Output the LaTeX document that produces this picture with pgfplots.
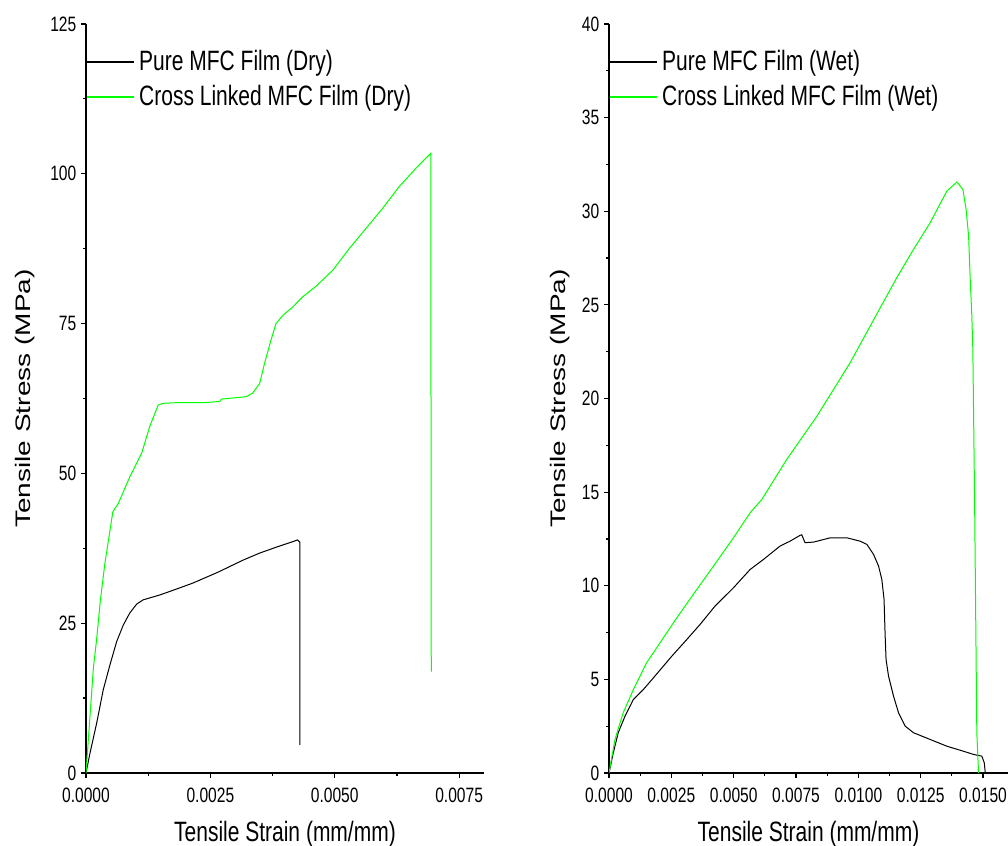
\documentclass[border=0pt]{standalone}
\usepackage{fontspec}
\setmainfont{Liberation Sans}[FakeStretch=0.75]
\newfontfamily\ylabfont{Liberation Sans}
\usepackage{graphicx}
\usepackage{pgfplots}
\pgfplotsset{compat=1.18}
\definecolor{lgreen}{RGB}{0,255,0}

\pgfplotsset{
  mystyle/.style={
    scale only axis, height=374.5pt,
    axis lines*=left,
    axis line style={line width=0.7pt, black},
    tick align=outside,
    major tick length=2.5pt, minor tick length=1.5pt,
    minor tick num=1,
    every tick/.style={line width=0.6pt, black},
    ymin=0, xmin=0,
    tick label style={font=\fontsize{10.4}{12}\selectfont},
    /pgf/number format/assume math mode=true,
    scaled x ticks=false,
    xticklabel style={yshift=-1.5pt, /pgf/number format/.cd, fixed, fixed zerofill, precision=4},
    yticklabel style={xshift=1.2pt, /pgf/number format/.cd, fixed, precision=0},
    xlabel style={font=\fontsize{14}{17}\selectfont, at={(axis description cs:0.5,-0.092)}, anchor=base},
    legend style={at={(axis description cs:0,1)}, anchor=north west, yshift=-13.3pt,
      draw=none, fill=none, inner sep=0pt, outer sep=0pt, row sep=4.5pt,
      font=\fontsize{14}{17}\selectfont,
      nodes={inner sep=0pt, text height=10pt, text depth=3pt},
      /tikz/every odd column/.append style={column sep=2.5pt}},
    legend cell align=left,
    legend image code/.code={\draw[#1, line width=0.6pt, draw opacity=1] (0pt,0.75pt) -- (23.5pt,0.75pt);},
    every axis plot/.append style={line width=0.5pt},
  }
}
\newcommand{\ylab}{\scalebox{1}[0.75]{\ylabfont\fontsize{14}{17}\selectfont Tensile Stress (MPa)}}

\begin{document}
\begin{tikzpicture}
\useasboundingbox (-43pt,-36.5pt) rectangle (461pt,386.5pt);

\begin{axis}[mystyle, at={(0pt,0pt)}, anchor=south west, width=199pt,
  xmax=0.008, ymax=125,
  xtick={0,0.0025,0.005,0.0075}, ytick={0,25,50,75,100,125},
  xlabel={Tensile Strain (mm/mm)},
  ylabel={\ylab},
  ylabel style={at={(axis description cs:-0.1533,0.5)}, anchor=center},
]
\addplot[color=black] coordinates {
(0,0) (0.00008,3.3) (0.000214,8.3) (0.000347,13.9) (0.00048,18.0) (0.000615,21.9)
(0.00075,24.7) (0.00088,26.7) (0.00102,28.2) (0.00115,28.9) (0.00148,29.7)
(0.00182,30.7) (0.00215,31.7) (0.00265,33.5) (0.00315,35.5) (0.00349,36.7)
(0.00383,37.7) (0.00419,38.7) (0.00425,38.9) (0.0043,38.5) (0.0043,4.7)
};
\addlegendentry{Pure MFC Film (Dry)}
\addplot[color=lgreen] coordinates {
(0,0) (0.00015,17.7) (0.00021,22.0) (0.00029,28.9) (0.00038,35.0) (0.00054,43.6)
(0.00065,45.0) (0.00088,49.4) (0.00112,53.4) (0.00128,57.8) (0.00145,61.4)
(0.00155,61.7) (0.00182,61.8) (0.00235,61.8) (0.00269,62.0) (0.00272,62.4)
(0.00322,62.8) (0.00335,63.4) (0.00349,65.0) (0.00359,68.4) (0.00372,72.3)
(0.00382,75.0) (0.00396,76.4) (0.00416,77.8) (0.00436,79.5) (0.00462,81.2)
(0.00496,83.9) (0.00529,87.5) (0.00563,90.9) (0.00596,94.2) (0.00629,97.8)
(0.00663,100.9) (0.00683,102.6) (0.00693,103.4) (0.00694,16.9)
};
\addlegendentry{Cross Linked MFC Film (Dry)}
\end{axis}

\begin{axis}[mystyle, at={(261.5pt,0pt)}, anchor=south west, width=199.5pt,
  xmax=0.016, ymax=40,
  xtick={0,0.0025,0.005,0.0075,0.01,0.0125,0.015}, ytick={0,5,...,40},
  xlabel={Tensile Strain (mm/mm)},
  ylabel={\ylab},
  ylabel style={at={(axis description cs:-0.1228,0.5)}, anchor=center},
]
\addplot[color=black] coordinates {
(0,0) (0.000173,1.08) (0.00037,2.15) (0.00064,3.03) (0.00098,3.93) (0.00138,4.46)
(0.00178,5.08) (0.00252,6.24) (0.00312,7.13) (0.00365,7.93) (0.00425,8.91)
(0.00499,9.89) (0.00566,10.87) (0.00619,11.40) (0.00686,12.12) (0.00726,12.38)
(0.00766,12.69) (0.00773,12.72) (0.00786,12.30) (0.0082,12.33) (0.00887,12.56)
(0.00954,12.56) (0.01007,12.38) (0.01034,12.21) (0.01061,11.67) (0.01081,11.05)
(0.01094,10.34) (0.01103,9.27) (0.01107,7.49) (0.01111,6.06) (0.01121,5.17)
(0.01141,4.10) (0.01161,3.22) (0.01188,2.50) (0.01221,2.15) (0.01288,1.79)
(0.01355,1.43) (0.01422,1.16) (0.01462,0.99) (0.01495,0.90) (0.01505,0.54) (0.01509,0)
};
\addlegendentry{Pure MFC Film (Wet)}
\addplot[color=lgreen] coordinates {
(0,0) (0.00024,1.79) (0.00057,3.22) (0.00098,4.46) (0.00151,5.89) (0.00205,6.96)
(0.00272,8.29) (0.00352,9.80) (0.00419,11.05) (0.00499,12.56) (0.00566,13.90)
(0.00613,14.61) (0.00713,16.75) (0.00834,19.06) (0.00967,21.91) (0.01094,25.0)
(0.01154,26.45) (0.01221,27.96) (0.01288,29.39) (0.01355,31.08) (0.01395,31.56)
(0.01419,31.17) (0.01432,30.10) (0.01442,28.68) (0.01448,26.54) (0.01455,24.40)
(0.01459,22.62) (0.01466,14.61) (0.01475,2.15) (0.01482,0)
};
\addlegendentry{Cross Linked MFC Film (Wet)}
\end{axis}
\end{tikzpicture}
\end{document}
